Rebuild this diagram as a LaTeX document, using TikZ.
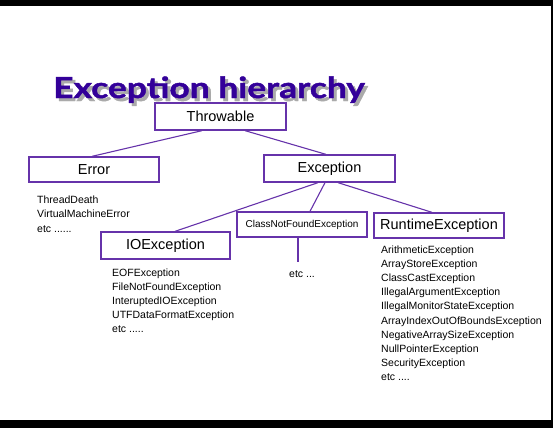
\documentclass[tikz,border=0pt]{standalone}
\usepackage{fontspec}
\setmainfont{Liberation Sans}
\newfontfamily\titlefont[FakeStretch=1.22,BoldFeatures={FakeBold=1.5}]{Lato}
\usetikzlibrary{positioning}
\definecolor{boxpurple}{RGB}{102,51,170}
\definecolor{titleindigo}{RGB}{51,0,153}
\definecolor{shadowgray}{RGB}{170,170,170}
\newcommand\shadowed[1]{\rlap{\hspace{3pt}\raisebox{-3pt}{\color{shadowgray}#1}}#1}
\tikzset{
  classbox/.style={draw=boxpurple,line width=1.3pt,inner sep=0pt,minimum width=130pt,minimum height=25pt,font=\fontsize{14.5}{16}\selectfont},
  subitem/.style={anchor=base west,inner sep=0pt,font=\fontsize{10.5}{12}\selectfont},
  headline/.style={anchor=base west,inner sep=0pt,font=\titlefont\bfseries\fontsize{29}{34}\selectfont},
  link/.style={boxpurple,line width=1.1pt}
}
\begin{document}
\begin{tikzpicture}[x=1pt,y=-1pt]
  \useasboundingbox (0,0) rectangle (553,428);
  \fill[black] (0,0) rectangle (553,6);
  \fill[black] (0,420) rectangle (553,428);
  \fill[black] (551,0) rectangle (553,428);

  \node[headline,titleindigo] (title) at (53,98) {\shadowed{Exception hierarchy}};

  \node[classbox,minimum width=131pt,minimum height=27pt] (throwable) at (220.5,116.5) {Throwable};
  \node[classbox] (error) at (94,169.5) {Error};
  \node[classbox,minimum width=131pt,minimum height=27pt] (exception) at (329.5,168.5) {Exception};
  \node[classbox,minimum width=129pt,minimum height=27pt] (ioex) at (165.5,245.5) {IOException};
  \node[classbox,font=\fontsize{10}{12}\selectfont] (cnfex) at (302,224.5) {ClassNotFoundException};
  \node[classbox] (rtex) at (439,225.5) {RuntimeException};
  \coordinate (cnfend) at (298,262);

  \draw[link] ([xshift=-18.5pt]throwable.south) -- ([xshift=-2pt]error.north);
  \draw[link] ([xshift=24.5pt]throwable.south) -- ([xshift=-3.5pt]exception.north);
  \draw[link] ([xshift=-11.5pt]exception.south) -- ([xshift=9.5pt]ioex.north);
  \draw[link] ([xshift=-4.5pt]exception.south) -- ([xshift=8pt]cnfex.north);
  \draw[link] ([xshift=8.5pt]exception.south) -- ([xshift=-7pt]rtex.north);
  \draw[link] ([xshift=-4pt]cnfex.south) -- (cnfend);

  \foreach \txt [count=\i] in {ThreadDeath,VirtualMachineError,etc .{}.{}.{}.{}.{}.}
    \node[subitem] (err\i) at (37,{203+14.5*(\i-1)}) {\txt};
  \foreach \txt [count=\i] in {EOFException,FileNotFoundException,InteruptedIOException,UTFDataFormatException,etc .{}.{}.{}.{}.}
    \node[subitem] (io\i) at (112,{276+14*(\i-1)}) {\txt};
  \node[subitem,anchor=base] (cnfetc) at (302,277) {etc .{}.{}.};
  \foreach \txt [count=\i] in {ArithmeticException,ArrayStoreException,ClassCastException,IllegalArgumentException,IllegalMonitorStateException,ArrayIndexOutOfBoundsException,NegativeArraySizeException,NullPointerException,SecurityException,etc .{}.{}.{}.}
    \node[subitem] (rt\i) at (381,{253+14.2*(\i-1)}) {\txt};
\end{tikzpicture}
\end{document}
